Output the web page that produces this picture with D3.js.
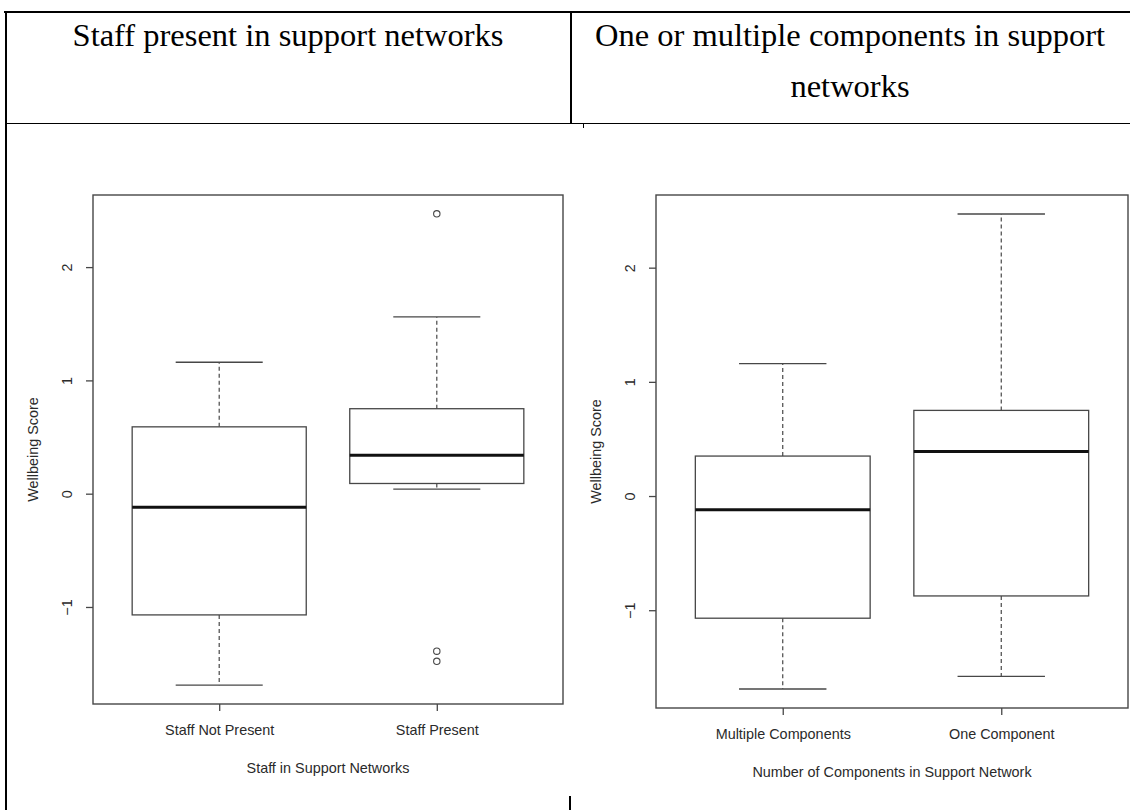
<!DOCTYPE html>
<html>
<head>
<meta charset="utf-8">
<script src="https://cdn.jsdelivr.net/npm/d3@7"></script>
<style>
  body { margin: 0; background: #fff; }
  svg { display: block; }
</style>
</head>
<body>
<svg id="chart" width="1130" height="810"></svg>
<script>
// Table header text
const headerLeft = ["Staff present in support networks"];
const headerRight = ["One or multiple components in support", "networks"];

// Shared y axis
const yTickValues = [-1, 0, 1, 2];
const yAxisTitle = "Wellbeing Score";

// Panel 1: staff present or not
const staffCategories = ["Staff Not Present", "Staff Present"];
const staffLower = [-1.69, 0.04];
const staffQ1 = [-1.07, 0.09];
const staffMedian = [-0.12, 0.34];
const staffQ3 = [0.59, 0.75];
const staffUpper = [1.16, 1.56];
const staffOutliers = [[], [2.47, -1.39, -1.48]];
const staffAxisTitle = "Staff in Support Networks";

// Panel 2: number of components
const componentCategories = ["Multiple Components", "One Component"];
const componentLower = [-1.69, -1.58];
const componentQ1 = [-1.07, -0.875];
const componentMedian = [-0.12, 0.39];
const componentQ3 = [0.35, 0.75];
const componentUpper = [1.16, 2.47];
const componentOutliers = [[], []];
const componentAxisTitle = "Number of Components in Support Network";

const svg = d3.select("#chart");
svg.append("rect").attr("width", 1130).attr("height", 810).attr("fill", "#fff");

// ---- table borders ----
const table = svg.append("g").attr("stroke", "#000").attr("fill", "none");
const tLines = [
  { x1: 4, y1: 12, x2: 1130, y2: 12, w: 2 },      // top border
  { x1: 6, y1: 11, x2: 6, y2: 810, w: 2 },        // left border
  { x1: 571, y1: 12, x2: 571, y2: 123, w: 2 },    // header divider
  { x1: 6, y1: 123.5, x2: 1130, y2: 123.5, w: 1 },// header bottom
  { x1: 583.5, y1: 124, x2: 583.5, y2: 128, w: 1 },
  { x1: 570, y1: 796, x2: 570, y2: 810, w: 2 }    // body divider stub
];
table.selectAll("line").data(tLines).join("line")
  .attr("x1", d => d.x1).attr("y1", d => d.y1)
  .attr("x2", d => d.x2).attr("y2", d => d.y2)
  .attr("stroke-width", d => d.w);

// ---- header text ----
const headerFont = "'Liberation Serif', 'Times New Roman', serif";
function headerText(lines, cx) {
  svg.append("g").selectAll("text").data(lines).join("text")
    .attr("x", cx).attr("y", (d, i) => 46 + i * 51)
    .attr("text-anchor", "middle")
    .attr("font-family", headerFont).attr("font-size", 32.5)
    .attr("fill", "#000")
    .text(d => d);
}
headerText(headerLeft, 288);
headerText(headerRight, 850);

// ---- boxplot panels ----
const ink = "#474747";
const textInk = "#2a2a2a";
const sansFont = "'Liberation Sans', Arial, sans-serif";

function drawPanel(frame, cats, lower, q1, med, q3, upper, outliers, xTitle) {
  const g = svg.append("g");
  const allVals = lower.concat(upper, ...outliers);
  const lo = d3.min(allVals), hi = d3.max(allVals);
  const pad = 0.04 * (hi - lo);

  const y = d3.scaleLinear().domain([lo - pad, hi + pad]).range([frame.y1, frame.y0]);
  const x = d3.scalePoint().domain(cats).range([frame.x0, frame.x1]).padding(0.58);
  const step = x.step();
  const boxHalf = 0.4 * step, capHalf = 0.2 * step;

  const rows = cats.map((c, i) => ({
    c, lower: lower[i], q1: q1[i], med: med[i], q3: q3[i], upper: upper[i], out: outliers[i]
  }));

  // whiskers (dashed)
  g.selectAll(".whisk").data(rows.flatMap(r => [[r, r.q3, r.upper], [r, r.q1, r.lower]]))
    .join("line")
    .attr("x1", d => x(d[0].c)).attr("x2", d => x(d[0].c))
    .attr("y1", d => y(d[1])).attr("y2", d => y(d[2]))
    .attr("stroke", ink).attr("stroke-width", 1.2).attr("stroke-dasharray", "4,3");

  // whisker caps
  g.selectAll(".cap").data(rows.flatMap(r => [[r, r.upper], [r, r.lower]]))
    .join("line")
    .attr("x1", d => x(d[0].c) - capHalf).attr("x2", d => x(d[0].c) + capHalf)
    .attr("y1", d => y(d[1])).attr("y2", d => y(d[1]))
    .attr("stroke", ink).attr("stroke-width", 1.3);

  // boxes
  g.selectAll(".box").data(rows).join("rect")
    .attr("x", d => x(d.c) - boxHalf).attr("width", 2 * boxHalf)
    .attr("y", d => y(d.q3)).attr("height", d => y(d.q1) - y(d.q3))
    .attr("fill", "#fff").attr("stroke", ink).attr("stroke-width", 1.3);

  // medians
  g.selectAll(".med").data(rows).join("line")
    .attr("x1", d => x(d.c) - boxHalf).attr("x2", d => x(d.c) + boxHalf)
    .attr("y1", d => y(d.med)).attr("y2", d => y(d.med))
    .attr("stroke", "#111").attr("stroke-width", 3);

  // outliers
  g.selectAll(".out").data(rows.flatMap(r => r.out.map(v => [r, v]))).join("circle")
    .attr("cx", d => x(d[0].c)).attr("cy", d => y(d[1])).attr("r", 3.2)
    .attr("fill", "none").attr("stroke", ink).attr("stroke-width", 1.1);

  // frame
  g.append("rect")
    .attr("x", frame.x0).attr("y", frame.y0)
    .attr("width", frame.x1 - frame.x0).attr("height", frame.y1 - frame.y0)
    .attr("fill", "none").attr("stroke", ink).attr("stroke-width", 1.4);

  // y axis
  const yAxis = g.append("g").attr("transform", `translate(${frame.x0},0)`)
    .call(d3.axisLeft(y).tickValues(yTickValues).tickSize(7).tickFormat(d3.format("d")));
  yAxis.select(".domain").remove();
  yAxis.selectAll(".tick line").attr("stroke", ink).attr("stroke-width", 1.3);
  yAxis.selectAll(".tick text")
    .attr("x", 0).attr("y", 0).attr("dy", null)
    .attr("transform", "translate(-26,0) rotate(-90)")
    .attr("text-anchor", "middle").attr("dominant-baseline", "central")
    .attr("font-family", sansFont).attr("font-size", 14.4).attr("fill", textInk);

  // x axis
  const xAxis = g.append("g").attr("transform", `translate(0,${frame.y1})`)
    .call(d3.axisBottom(x).tickSize(7).tickPadding(14));
  xAxis.select(".domain").remove();
  xAxis.selectAll(".tick line").attr("stroke", ink).attr("stroke-width", 1.3);
  xAxis.selectAll(".tick text")
    .attr("font-family", sansFont).attr("font-size", 14.4).attr("fill", textInk);

  // axis titles
  g.append("text")
    .attr("transform", `translate(${frame.x0 - 60},${(frame.y0 + frame.y1) / 2}) rotate(-90)`)
    .attr("text-anchor", "middle").attr("dominant-baseline", "central")
    .attr("font-family", sansFont).attr("font-size", 14.4).attr("fill", textInk)
    .text(yAxisTitle);
  g.append("text")
    .attr("x", (frame.x0 + frame.x1) / 2).attr("y", frame.y1 + 69)
    .attr("text-anchor", "middle")
    .attr("font-family", sansFont).attr("font-size", 14.4).attr("fill", textInk)
    .text(xTitle);
}

drawPanel({ x0: 93, x1: 563, y0: 195, y1: 704 },
  staffCategories, staffLower, staffQ1, staffMedian, staffQ3, staffUpper, staffOutliers, staffAxisTitle);
drawPanel({ x0: 656, x1: 1128, y0: 195, y1: 708 },
  componentCategories, componentLower, componentQ1, componentMedian, componentQ3, componentUpper, componentOutliers, componentAxisTitle);
</script>
</body>
</html>
